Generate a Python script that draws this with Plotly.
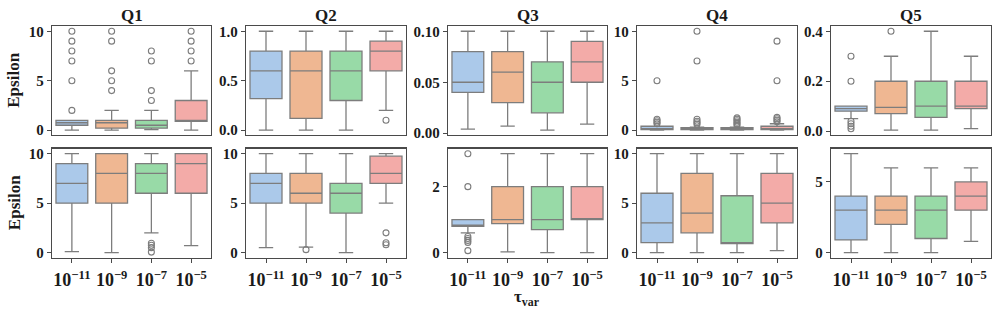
import plotly.graph_objects as go

# ---------------- data ----------------
panels = ["Q1", "Q2", "Q3", "Q4", "Q5"]
tau_labels = ["10<sup>−11</sup>", "10<sup>−9</sup>", "10<sup>−7</sup>", "10<sup>−5</sup>"]
colors = ["#abc9ea", "#efb792", "#98daa7", "#f3aba8"]

# top row (per panel, per tau)
top_q1 = [[0.5, 0.2, 0.2, 0.9], [0.32, 0.12, 0.30, 0.6], [0.04, 0.03, 0.02, 0.05],
          [0.05, 0.05, 0.05, 0.05], [0.08, 0.07, 0.055, 0.09]]
top_med = [[0.75, 0.75, 0.5, 0.95], [0.6, 0.6, 0.6, 0.8], [0.05, 0.06, 0.05, 0.07],
           [0.15, 0.12, 0.12, 0.15], [0.09, 0.095, 0.1, 0.1]]
top_q3 = [[1.0, 1.0, 1.0, 3.0], [0.8, 0.8, 0.8, 0.9], [0.08, 0.08, 0.07, 0.09],
          [0.4, 0.25, 0.25, 0.4], [0.1, 0.2, 0.2, 0.2]]
top_lo = [[0.0, 0.0, 0.05, 0.0], [0.0, 0.0, 0.0, 0.2], [0.004, 0.007, 0.003, 0.009],
          [0.0, 0.0, 0.0, 0.0], [0.05, 0.004, 0.004, 0.01]]
top_hi = [[1.0, 2.0, 2.0, 6.0], [1.0, 1.0, 1.0, 1.0], [0.1, 0.1, 0.1, 0.1],
          [0.4, 0.3, 0.3, 0.65], [0.1, 0.3, 0.4, 0.3]]
top_out = [
    [[2, 5, 7, 8, 9, 10], [4, 5, 6, 9, 10], [3, 4, 7, 8], [7, 8, 9, 10]],
    [[], [], [], [0.1]],
    [[], [], [], []],
    [[0.65, 0.8, 0.95, 1.1, 5], [0.6, 0.75, 0.9, 1.1, 7, 10],
     [0.5, 0.65, 0.8, 0.95, 1.1, 1.25], [0.85, 1.0, 1.15, 1.3, 5, 9]],
    [[0.01, 0.02, 0.03, 0.04, 0.2, 0.3], [0.4], [], []],
]

# bottom row
bot_q1 = [[5, 5, 6, 6], [5, 5, 4, 7], [0.8, 0.88, 0.7, 1.0], [1, 2, 0.9, 3], [0.9, 2, 1, 3]]
bot_med = [[7, 8, 8, 9], [7, 6, 6, 8], [0.8, 1.0, 1.0, 1.0], [3, 4, 1.0, 5], [3, 3, 3, 4]]
bot_q3 = [[9, 10, 9, 10], [8, 8, 7, 9.75], [1.0, 2, 2, 2], [6, 8, 5.75, 8], [4, 4, 4, 5]]
bot_lo = [[0.1, 0, 2, 0.7], [0.5, 0.55, 0, 5], [0.6, 0.02, 0, 0], [0, 0, 0, 0.2], [0, 0, 0, 0.8]]
bot_hi = [[10, 10, 10, 10], [10, 10, 10, 10], [1.0, 3, 3, 3], [10, 10, 10, 10], [7, 6, 6, 6]]
bot_out = [
    [[], [], [0.05, 0.5, 0.75, 0.95], []],
    [[], [0.3], [], [0.8, 1.0, 2.0]],
    [[0.06, 0.31, 0.37, 0.43, 0.49, 2, 3], [], [], []],
    [[], [], [], []],
    [[], [], [], []],
]

top_ticks = [[0, 5, 10], [0, 0.5, 1.0], [0, 0.05, 0.1], [0, 5, 10], [0, 0.2, 0.4]]
top_ticktext = [["0", "5", "10"], ["0.0", "0.5", "1.0"], ["0.00", "0.05", "0.10"],
                ["0", "5", "10"], ["0.0", "0.2", "0.4"]]
bot_ticks = [[0, 5, 10], [0, 5, 10], [0, 2], [0, 5, 10], [0, 5]]
bot_ticktext = [["0", "5", "10"], ["0", "5", "10"], ["0", "2"], ["0", "5", "10"], ["0", "5"]]

# ---------------- layout geometry ----------------
W, H = 997, 317
col_px = [(52, 211), (246, 406), (448, 607), (637, 797), (831, 991)]
row_px = [(24, 136), (150, 262)]

FONT = "Liberation Serif, Times New Roman, serif"
FRAME = "#4a4a4a"
LINE = "#7d7d7d"

fig = go.Figure()
layout = dict(
    width=W, height=H, margin=dict(l=0, r=0, t=0, b=0),
    paper_bgcolor="white", plot_bgcolor="white", showlegend=False,
    font=dict(family=FONT, color="#1a1a1a"),
)

rows = [
    (top_q1, top_med, top_q3, top_lo, top_hi, top_out, top_ticks, top_ticktext),
    (bot_q1, bot_med, bot_q3, bot_lo, bot_hi, bot_out, bot_ticks, bot_ticktext),
]

for r, (Q1, MED, Q3, LO, HI, OUT, TV, TT) in enumerate(rows):
    for c in range(5):
        k = r * 5 + c + 1
        xa, ya = f"x{k}", f"y{k}"
        vals = []
        for i in range(4):
            fig.add_trace(go.Box(
                x=[i], q1=[Q1[c][i]], median=[MED[c][i]], q3=[Q3[c][i]],
                lowerfence=[LO[c][i]], upperfence=[HI[c][i]],
                width=0.8, whiskerwidth=0.45, fillcolor=colors[i],
                line=dict(color=LINE, width=1.3), boxpoints=False,
                xaxis=xa, yaxis=ya, hoverinfo="skip",
            ))
            vals += [LO[c][i], HI[c][i]] + list(OUT[c][i])
            if OUT[c][i]:
                fig.add_trace(go.Scatter(
                    x=[i] * len(OUT[c][i]), y=OUT[c][i], mode="markers",
                    marker=dict(symbol="circle-open", size=6, color=LINE,
                                line=dict(width=1.1, color=LINE)),
                    xaxis=xa, yaxis=ya, hoverinfo="skip",
                ))
        lo, hi = min(vals), max(vals)
        pad = (hi - lo) * 0.05
        x0, x1 = col_px[c]
        y0, y1 = row_px[r]
        axname = "" if k == 1 else str(k)
        layout[f"xaxis{axname}"] = dict(
            domain=[x0 / W, x1 / W], anchor=ya, range=[-0.5, 3.5],
            showline=True, mirror=True, linecolor=FRAME, linewidth=1.3,
            showgrid=False, zeroline=False, fixedrange=True,
            tickvals=[0, 1, 2, 3],
            ticktext=[f"<b>{t}</b>" for t in tau_labels],
            ticks="outside" if r == 1 else "", ticklen=4, tickcolor=FRAME, tickwidth=1,
            showticklabels=(r == 1), ticklabelstandoff=2,
            tickfont=dict(family=FONT, size=18, color="#1a1a1a"),
        )
        layout[f"yaxis{axname}"] = dict(
            domain=[1 - y1 / H, 1 - y0 / H], anchor=xa, range=[lo - pad, hi + pad],
            showline=True, mirror=True, linecolor=FRAME, linewidth=1.3,
            showgrid=False, zeroline=False, fixedrange=True,
            tickvals=TV[c], ticktext=[f"<b>{t}</b>" for t in TT[c]],
            ticks="outside", ticklen=4, tickcolor=FRAME, tickwidth=1,
            tickfont=dict(family=FONT, size=15, color="#1a1a1a"),
        )

annotations = []
for c, name in enumerate(panels):
    x0, x1 = col_px[c]
    annotations.append(dict(
        text=f"<b>{name}</b>", x=(x0 + x1) / 2 / W, y=1 - 13 / H,
        xref="paper", yref="paper", showarrow=False,
        font=dict(family=FONT, size=17, color="#1a1a1a"),
        xanchor="center", yanchor="middle",
    ))
for r in range(2):
    y0, y1 = row_px[r]
    annotations.append(dict(
        text="<b>Epsilon</b>", x=14 / W, y=1 - (y0 + y1) / 2 / H,
        xref="paper", yref="paper", showarrow=False, textangle=-90,
        font=dict(family=FONT, size=17, color="#1a1a1a"),
        xanchor="center", yanchor="middle",
    ))
annotations.append(dict(
    text="<b>τ<sub>var</sub></b>", x=527 / W, y=1 - 304 / H,
    xref="paper", yref="paper", showarrow=False,
    font=dict(family=FONT, size=17, color="#1a1a1a"),
    xanchor="center", yanchor="middle",
))
layout["annotations"] = annotations
fig.update_layout(**layout)
fig.write_html(
    "out.html",
    config={"displayModeBar": False, "staticPlot": True},
    post_script="document.body.style.margin='0';document.body.style.padding='0';"
                "document.body.style.overflow='hidden';",
)
